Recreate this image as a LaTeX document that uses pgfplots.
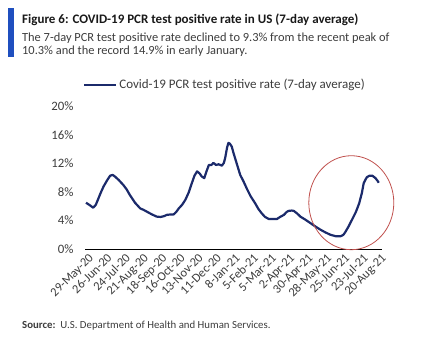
\documentclass[border=0pt]{standalone}
\usepackage{fontspec}
\setmainfont{Carlito}
\usepackage{pgfplots}
\pgfplotsset{compat=1.18}
\definecolor{navy}{HTML}{1B2A6B}
\definecolor{barblue}{HTML}{1F4FBF}
\definecolor{txt}{HTML}{3C3C3C}
\definecolor{circ}{HTML}{C0504D}
\begin{document}
\begin{tikzpicture}[x=1pt,y=1pt]
\useasboundingbox (0,0) rectangle (437,352);
\fill[barblue] (8,295) rectangle (13.5,344);
\node[anchor=base west,inner sep=0,font=\bfseries\fontsize{13}{15}\selectfont,text=black!90] at (22,328) {Figure 6: COVID-19 PCR test positive rate in US (7-day average)};
\node[anchor=base west,inner sep=0,font=\fontsize{12.4}{14}\selectfont,text=txt] at (22,310.3) {The 7-day PCR test positive rate declined to 9.3\% from the recent peak of};
\node[anchor=base west,inner sep=0,font=\fontsize{12.4}{14}\selectfont,text=txt] at (22,297) {10.3\% and the record 14.9\% in early January.};
\node[anchor=base west,inner sep=0,font=\fontsize{10.8}{12}\selectfont,text=txt] at (22,23) {\textbf{Source:}\ \ U.S. Department of Health and Human Services.};
\begin{axis}[
  at={(86pt,103pt)}, anchor=origin,
  scale only axis, width=297pt, height=142.4pt,
  xmin=-1.5, xmax=453, ymin=0, ymax=20,
  axis x line*=bottom, axis y line*=left,
  y axis line style={draw=none},
  x axis line style={black, line width=0.8pt},
  major tick length=0pt,
  ytick={0,4,...,20},
  yticklabel={\pgfmathprintnumber{\tick}\%},
  /pgf/number format/assume math mode=true,
  yticklabel style={font=\fontsize{12.8}{14}\selectfont, text=txt, xshift=-8pt},
  xtick={0,28,...,448},
  xticklabels={29-May-20,26-Jun-20,24-Jul-20,21-Aug-20,18-Sep-20,16-Oct-20,13-Nov-20,11-Dec-20,8-Jan-21,5-Feb-21,5-Mar-21,2-Apr-21,30-Apr-21,28-May-21,25-Jun-21,23-Jul-21,20-Aug-21},
  xticklabel style={font=\fontsize{12.5}{14}\selectfont, text=txt, rotate=45, anchor=north east, inner sep=1pt, yshift=-3pt},
  clip=false,
  legend style={at={(-0.007,1.152)}, anchor=west, draw=none, fill=none, inner sep=0pt, font=\fontsize{13}{15}\selectfont, text=txt, /tikz/every even column/.append style={column sep=0pt}},
  legend cell align=left,
  legend image code/.code={\draw[#1] (0pt,0pt) -- (32pt,0pt);},
]
\addplot[navy, line width=2.2pt, line join=round] coordinates {
(0,6.5)(5,6.2)(11,5.8)(15,6.2)(19,7.1)(23,8.0)(27,8.8)(32,9.6)(37,10.3)(41,10.4)
(44,10.2)(50,9.7)(57,9.0)(62,8.4)(67,7.6)(75,6.5)(83,5.7)(88,5.5)(93,5.25)(100,4.9)
(108,4.55)(114,4.5)(119,4.6)(124,4.8)(130,4.85)(134,4.85)(138,5.2)(142,5.7)(147,6.2)(152,6.9)
(157,7.9)(162,9.25)(166,10.3)(170,10.9)(174,10.6)(177,10.2)(181,9.95)(184,10.8)(188,11.8)(192,11.8)
(195,12.1)(199,11.8)(203,11.9)(208,11.7)(211,12.1)(213,12.8)(216,14.3)(218,14.9)(220,14.8)(223,14.4)
(226,13.4)(229,12.5)(233,11.3)(236,10.4)(241,9.5)(246,8.5)(252,7.4)(259,6.4)(264,5.6)(269,5.0)
(274,4.5)(280,4.2)(286,4.2)(292,4.2)(297,4.5)(303,4.8)(307,5.2)(310,5.35)(315,5.4)(318,5.35)
(323,5.0)(328,4.55)(336,4.1)(344,3.6)(352,3.1)(359,2.7)(366,2.35)(374,2.0)(382,1.8)(390,1.8)
(394,2.0)(397,2.4)(402,3.2)(407,4.1)(413,5.2)(418,6.4)(422,7.8)(425,9.25)(428,9.8)(430,10.1)
(434,10.3)(438,10.3)(441,10.1)(443,9.95)(446,9.6)(448,9.3)
};
\addlegendentry{Covid-19 PCR test positive rate (7-day average)}
\draw[circ, line width=0.8pt] (axis cs:406,6.5) ellipse [x radius=42.5pt, y radius=47pt];
\end{axis}
\end{tikzpicture}
\end{document}
